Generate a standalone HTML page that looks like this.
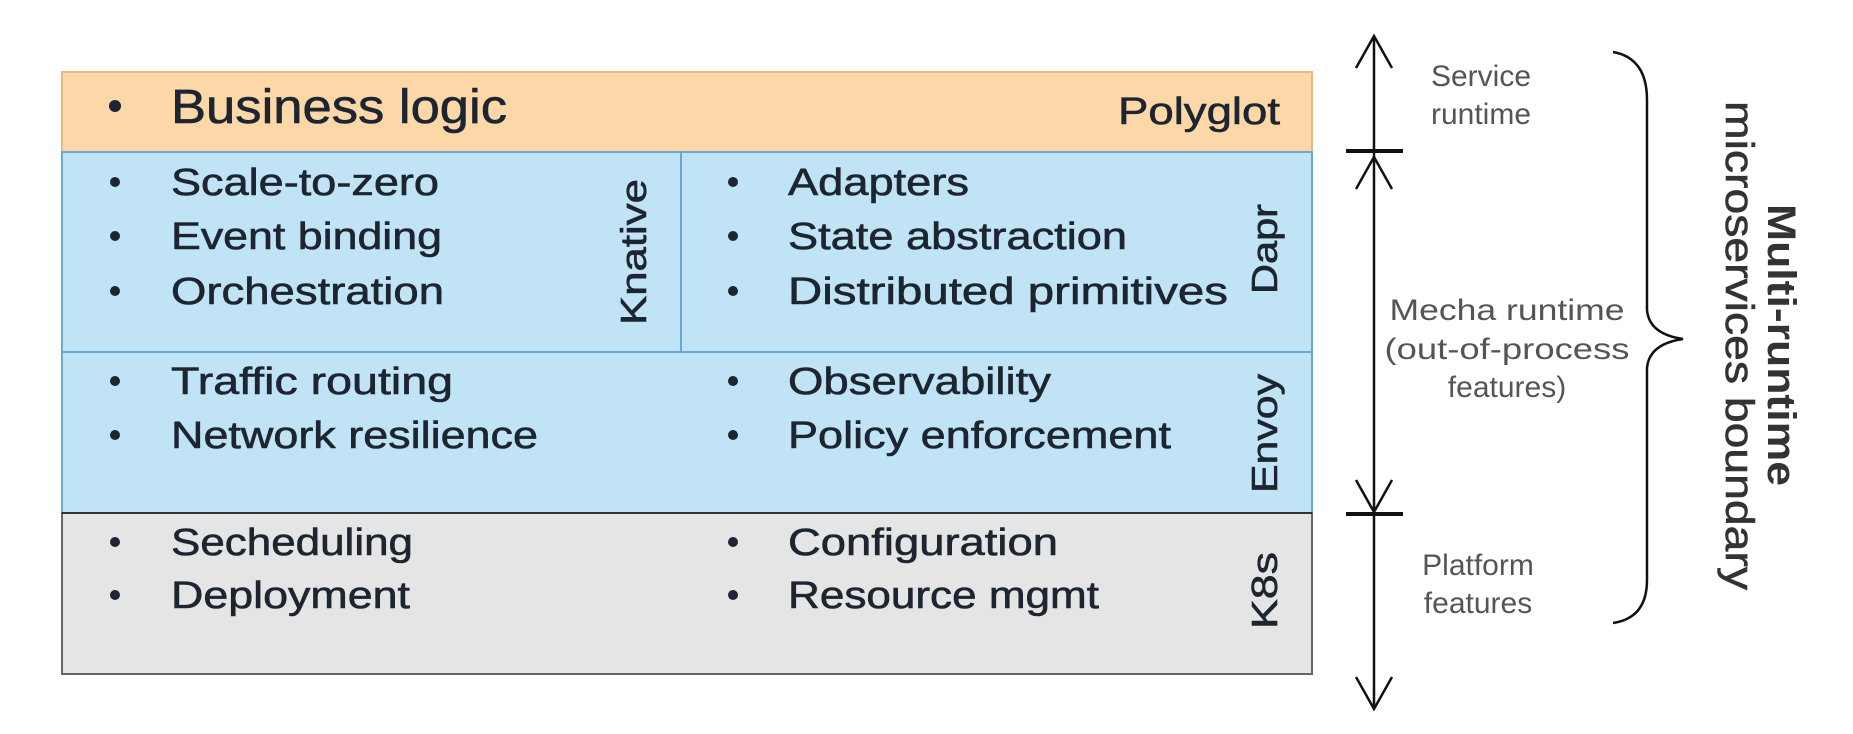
<!DOCTYPE html>
<html><head><meta charset="utf-8"><style>
html,body{margin:0;padding:0;background:#fff;width:1853px;height:734px;overflow:hidden}
svg text{font-family:"Liberation Sans",sans-serif}
</style></head><body>
<svg width="1853" height="734" viewBox="0 0 1853 734" xmlns="http://www.w3.org/2000/svg">
<rect x="62" y="72" width="1250" height="80" fill="#fcd7a8" stroke="#e9b97c" stroke-width="2"/>
<rect x="62" y="152" width="1250" height="200" fill="#c0e3f6" stroke="#6aa9d0" stroke-width="2"/>
<rect x="62" y="352" width="1250" height="161" fill="#c0e3f6" stroke="#6aa9d0" stroke-width="2"/>
<rect x="62" y="513" width="1250" height="161" fill="#e5e5e5" stroke="#666" stroke-width="2"/>
<line x1="62" y1="513" x2="1312" y2="513" stroke="#333" stroke-width="2"/>
<line x1="681" y1="152" x2="681" y2="352" stroke="#6aa9d0" stroke-width="2"/>
<g fill="#1c2530" stroke="#1c2530" stroke-width="0.6" font-size="38">
<g stroke="none"><circle cx="115" cy="106" r="6"/>
<circle cx="115" cy="182" r="5"/><circle cx="115" cy="236" r="5"/><circle cx="115" cy="291" r="5"/>
<circle cx="115" cy="381" r="5"/><circle cx="115" cy="435" r="5"/><circle cx="115" cy="542" r="5"/><circle cx="115" cy="595" r="5"/>
<circle cx="733" cy="182" r="5"/><circle cx="733" cy="236" r="5"/><circle cx="733" cy="291" r="5"/>
<circle cx="733" cy="381" r="5"/><circle cx="733" cy="435" r="5"/><circle cx="733" cy="542" r="5"/><circle cx="733" cy="595" r="5"/></g>
<text x="171" y="123" font-size="48" textLength="336" lengthAdjust="spacingAndGlyphs">Business logic</text>
<text x="1118" y="124" textLength="162" lengthAdjust="spacingAndGlyphs">Polyglot</text>
<text x="171" y="195" textLength="268" lengthAdjust="spacingAndGlyphs">Scale-to-zero</text>
<text x="171" y="249" textLength="271" lengthAdjust="spacingAndGlyphs">Event binding</text>
<text x="171" y="304" textLength="273" lengthAdjust="spacingAndGlyphs">Orchestration</text>
<text x="171" y="394" textLength="282" lengthAdjust="spacingAndGlyphs">Traffic routing</text>
<text x="171" y="448" textLength="367" lengthAdjust="spacingAndGlyphs">Network resilience</text>
<text x="171" y="555" textLength="242" lengthAdjust="spacingAndGlyphs">Secheduling</text>
<text x="171" y="608" textLength="239" lengthAdjust="spacingAndGlyphs">Deployment</text>
<text x="788" y="195" textLength="181" lengthAdjust="spacingAndGlyphs">Adapters</text>
<text x="788" y="249" textLength="339" lengthAdjust="spacingAndGlyphs">State abstraction</text>
<text x="788" y="304" textLength="440" lengthAdjust="spacingAndGlyphs">Distributed  primitives</text>
<text x="788" y="394" textLength="263" lengthAdjust="spacingAndGlyphs">Observability</text>
<text x="788" y="448" textLength="383" lengthAdjust="spacingAndGlyphs">Policy enforcement</text>
<text x="788" y="555" textLength="270" lengthAdjust="spacingAndGlyphs">Configuration</text>
<text x="788" y="608" textLength="311" lengthAdjust="spacingAndGlyphs">Resource mgmt</text>
<g font-size="36">
<text transform="translate(646,325) rotate(-90)" textLength="146" lengthAdjust="spacingAndGlyphs">Knative</text>
<text transform="translate(1277,294) rotate(-90)" textLength="90" lengthAdjust="spacingAndGlyphs">Dapr</text>
<text transform="translate(1277,493) rotate(-90)" textLength="119" lengthAdjust="spacingAndGlyphs">Envoy</text>
<text transform="translate(1277,629) rotate(-90)" textLength="77" lengthAdjust="spacingAndGlyphs">K8s</text>
</g>
</g>
<g stroke="#111" stroke-width="2.5" fill="none">
<line x1="1374" y1="36" x2="1374" y2="709"/>
<polyline points="1356,68 1374,36 1392,68"/>
<polyline points="1356,189 1374,157 1392,189"/>
<polyline points="1356,480 1374,512 1392,480"/>
<polyline points="1356,677 1374,709 1392,677"/>
<line x1="1346" y1="151" x2="1403" y2="151" stroke-width="4"/>
<line x1="1346" y1="514" x2="1403" y2="514" stroke-width="4"/>
<path d="M1622,52 Q1656,58 1656,100 L1656,310 Q1658,334 1692,339 Q1658,344 1656,368 L1656,580 Q1656,618 1622,623" transform="translate(-9,0)"/>
</g>
<g fill="#555" font-size="30" text-anchor="middle">
<text x="1481" y="86">Service</text><text x="1481" y="124">runtime</text>
<text x="1507" y="320" textLength="235" lengthAdjust="spacingAndGlyphs">Mecha runtime</text><text x="1507" y="359" textLength="245" lengthAdjust="spacingAndGlyphs">(out-of-process</text><text x="1507" y="397">features)</text>
<text x="1478" y="575">Platform</text><text x="1478" y="613">features</text>
</g>
<g fill="#333" font-size="40">
<text transform="translate(1768,204) rotate(90)" font-weight="bold" textLength="282" lengthAdjust="spacingAndGlyphs">Multi-runtime</text>
<text transform="translate(1726,101) rotate(90)" textLength="489" lengthAdjust="spacingAndGlyphs" stroke="#333" stroke-width="0.6">microservices boundary</text>
</g>
</svg>
</body></html>
